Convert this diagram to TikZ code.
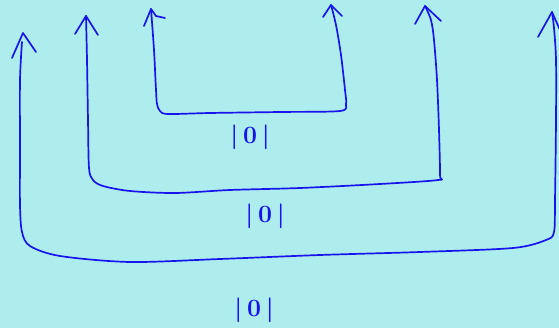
\documentclass[tikz,border=0pt]{standalone}
\usetikzlibrary{calc}
\definecolor{bgcyan}{RGB}{174,237,237}
\definecolor{penblue}{RGB}{22,22,236}
\tikzset{%
  pen/.style={draw=penblue, line width=1.7pt, line cap=round, line join=round},
  ket/.style={text=penblue, inner sep=0pt},
}

\begin{document}
\begin{tikzpicture}[x=1pt, y=-1pt]
    \fill[bgcyan] (0,0) rectangle (559,328);
    \useasboundingbox (0,0) rectangle (559,328);

    % arrow tips and barbs
    \coordinate (A1) at (151,9);   \coordinate (A2) at (331,5);
    \coordinate (B1) at (86,16);   \coordinate (B2) at (425,6);
    \coordinate (C1) at (23,33);   \coordinate (C2) at (552,12);

    %inner cup
    \draw[pen] plot[smooth, tension=0.5] coordinates {(A1) (154,50) (156,90) (157,104) (160,111) (168,114)
        (210,113) (280,112) (340,111) (346,104) (345,90) (341,55) (336,25) (A2)};
    \draw[pen] (144,26) -- (A1) -- (156,16) -- (165,18);
    \draw[pen] (323,17) -- (A2) -- (342,16);

    %middle cup
    \draw[pen] plot[smooth, tension=0.5] coordinates {(B1) (87,60) (88,120) (89,168) (93,180) (103,186)
        (130,191) (175,193) (230,190) (300,188) (380,184) (438,180) (440,175) (439,130) (437,80)
        (434,40) (431,20) (B2)};
    \draw[pen] (75,34) -- (B1) -- (98,35);
    \draw[pen] (415,24) -- (B2) -- (441,21);

    %outer cup
    \draw[pen] plot[smooth, tension=0.5] coordinates {(22,42) (20,80) (20,150) (20,205) (22,232) (30,246)
        (60,256) (130,262) (220,259) (320,255) (420,252) (513,248) (546,240) (554,232) (555,200)
        (556,120) (556,60) (554,28) (C2)};
    \draw[pen] (12,58) -- (C1) -- (36,52);
    \draw[pen] (538,37) -- (C2) -- (560,30);

    % labels
    \node[ket, font=\fontsize{30}{30}\selectfont\boldmath] (k1) at (250,137) {$|\,0\,|$};
    \node[ket, font=\fontsize{34}{34}\selectfont\boldmath] (k2) at (265,216) {$|\,0\,|$};
    \node[ket, font=\fontsize{36}{36}\selectfont\boldmath] (k3) at (254,310) {$|\,0\,|$};
\end{tikzpicture}
\end{document}
